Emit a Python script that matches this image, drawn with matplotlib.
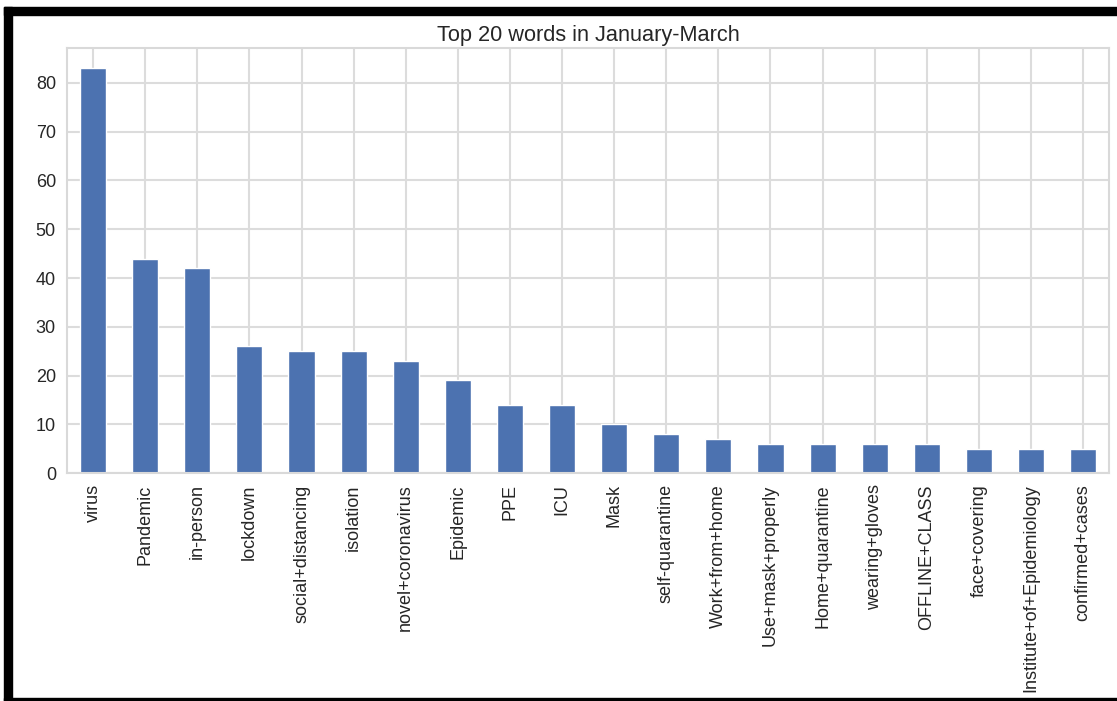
import matplotlib
matplotlib.use("Agg")
import matplotlib.pyplot as plt
import seaborn as sns
import pandas as pd
from matplotlib.patches import Rectangle

words = ["virus", "Pandemic", "in-person", "lockdown", "social+distancing",
         "isolation", "novel+coronavirus", "Epidemic", "PPE", "ICU", "Mask",
         "self-quarantine", "Work+from+home", "Use+mask+properly",
         "Home+quarantine", "wearing+gloves", "OFFLINE+CLASS", "face+covering",
         "Institute+of+Epidemiology", "confirmed+cases"]
counts = [83, 44, 42, 26, 25, 25, 23, 19, 14, 14, 10, 8, 7, 6, 6, 6, 6, 5, 5, 5]

sns.set_style("whitegrid")
plt.rcParams["font.family"] = ["Liberation Sans", "DejaVu Sans"]

fig = plt.figure(figsize=(11.17, 7.01), dpi=100)
ax = fig.add_axes([0.06, 0.325, 0.933, 0.6065])

series = pd.Series(counts, index=words)
series.plot(kind="bar", ax=ax, color="#4C72B0", width=0.5)

ax.set_title("Top 20 words in January-March", fontsize=15.7, color="#262626", pad=5)
ax.tick_params(axis="both", labelsize=13, colors="#262626", length=0, pad=8)
for s in ax.spines.values():
    s.set_color("#d9d9d9")
    s.set_linewidth(1.5)
ax.grid(True, color="#dcdcdc", linewidth=1.5)

# black frame around the screenshot
fig.patches.append(Rectangle((4 / 1117, 0), 8 / 1117, 1 - 7 / 701, transform=fig.transFigure, color="black"))
fig.patches.append(Rectangle((4 / 1117, 1 - 15 / 701), 1 - 4 / 1117, 8 / 701, transform=fig.transFigure, color="black"))
fig.patches.append(Rectangle((4 / 1117, 0), 1 - 4 / 1117, 3 / 701, transform=fig.transFigure, color="black"))

fig.savefig("out.png", dpi=100)
